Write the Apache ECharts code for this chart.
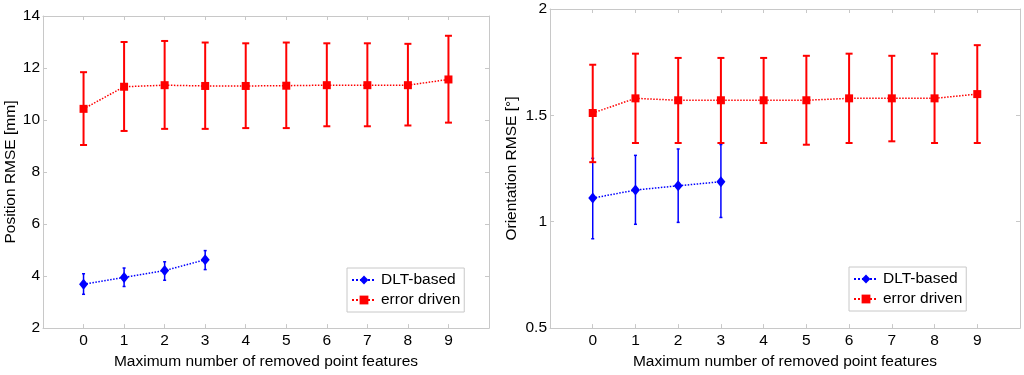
<!DOCTYPE html>
<html>
<head>
<meta charset="utf-8">
<script src="https://cdn.jsdelivr.net/npm/echarts@6/dist/echarts.min.js"></script>
<style>
html,body{margin:0;padding:0;background:#fff;}
#c{width:1024px;height:375px;}
</style>
</head>
<body>
<div id="c"></div>
<script>
var categories = [0, 1, 2, 3, 4, 5, 6, 7, 8, 9];
var seriesNames = ['DLT-based', 'error driven'];

// Position RMSE [mm]
var posDltMean = [3.69, 3.95, 4.21, 4.63];
var posDltLow  = [3.30, 3.60, 3.84, 4.25];
var posDltHigh = [4.09, 4.31, 4.55, 4.98];
var posErrMean = [10.43, 11.28, 11.34, 11.31, 11.31, 11.32, 11.34, 11.34, 11.34, 11.56];
var posErrLow  = [9.04, 9.58, 9.66, 9.66, 9.69, 9.69, 9.76, 9.76, 9.79, 9.90];
var posErrHigh = [11.84, 13.00, 13.04, 12.98, 12.95, 12.98, 12.95, 12.95, 12.93, 13.24];

// Orientation RMSE [deg]
var oriDltMean = [1.111, 1.149, 1.169, 1.188];
var oriDltLow  = [0.920, 0.988, 0.997, 1.020];
var oriDltHigh = [1.298, 1.312, 1.342, 1.363];
var oriErrMean = [1.511, 1.580, 1.571, 1.571, 1.571, 1.571, 1.580, 1.580, 1.580, 1.600];
var oriErrLow  = [1.280, 1.370, 1.370, 1.370, 1.370, 1.362, 1.370, 1.378, 1.370, 1.370];
var oriErrHigh = [1.738, 1.790, 1.770, 1.770, 1.770, 1.780, 1.790, 1.780, 1.790, 1.830];

var posTicks = [2, 4, 6, 8, 10, 12, 14];
var oriTicks = [0.5, 1, 1.5, 2];

var BLUE = '#0000ff', RED = '#ff0000', BOX = '#c8c8c8';
var FONT = 'Liberation Sans, Arial, sans-serif';
var FS = 15.5;

function pts(means) { return means.map(function (v, i) { return [categories[i], v]; }); }
function bars(lows, highs) { return lows.map(function (v, i) { return [categories[i], v, highs[i]]; }); }

function errSeries(name, data, color, capHalf, lw, gi) {
  return {
    type: 'custom', name: name + ' error', xAxisIndex: gi * 2, yAxisIndex: gi * 2, z: 2,
    data: data, silent: true, itemStyle: { color: color },
    renderItem: function (params, api) {
      var x = api.value(0);
      var lo = api.coord([x, api.value(1)]);
      var hi = api.coord([x, api.value(2)]);
      var st = { stroke: color, lineWidth: lw };
      return {
        type: 'group',
        children: [
          { type: 'line', shape: { x1: lo[0], y1: lo[1], x2: hi[0], y2: hi[1] }, style: st },
          { type: 'line', shape: { x1: lo[0] - capHalf, y1: lo[1], x2: lo[0] + capHalf, y2: lo[1] }, style: st },
          { type: 'line', shape: { x1: hi[0] - capHalf, y1: hi[1], x2: hi[0] + capHalf, y2: hi[1] }, style: st }
        ]
      };
    }
  };
}

function lineSeries(name, data, color, symbol, size, gi) {
  return {
    type: 'line', name: name, xAxisIndex: gi * 2, yAxisIndex: gi * 2, z: 3,
    data: data, symbol: symbol, symbolSize: size,
    lineStyle: { color: color, width: 1.5, type: 'dotted' },
    itemStyle: { color: color, borderWidth: 0 },
    emphasis: { disabled: true }, animation: false
  };
}

function xAxes(gi, nameGap) {
  var tickLabels = categories.map(String);
  return [
    {
      type: 'value', gridIndex: gi, min: -1, max: 10, interval: 1, position: 'bottom',
      name: 'Maximum number of removed point features', nameLocation: 'middle', nameGap: nameGap,
      nameTextStyle: { fontFamily: FONT, fontSize: FS, color: '#000' },
      axisLine: { onZero: false, lineStyle: { color: BOX, width: 1 } },
      axisTick: { inside: true, length: 4, lineStyle: { color: BOX } },
      axisLabel: {
        margin: 5, fontFamily: FONT, fontSize: FS, color: '#000',
        formatter: function (v) { return tickLabels.indexOf(String(v)) >= 0 ? String(v) : ''; }
      },
      splitLine: { show: false }
    },
    {
      type: 'value', gridIndex: gi, min: -1, max: 10, interval: 1, position: 'top',
      axisLine: { onZero: false, lineStyle: { color: BOX, width: 1 } },
      axisTick: { inside: true, length: 4, lineStyle: { color: BOX } },
      axisLabel: { show: false }, splitLine: { show: false }
    }
  ];
}

function yAxes(gi, min, max, interval, name, nameGap) {
  return [
    {
      type: 'value', gridIndex: gi, min: min, max: max, interval: interval, position: 'left',
      name: name, nameLocation: 'middle', nameGap: nameGap,
      nameTextStyle: { fontFamily: FONT, fontSize: FS, color: '#000' },
      axisLine: { show: true, onZero: false, lineStyle: { color: BOX, width: 1 } },
      axisTick: { show: true, inside: true, length: 4, lineStyle: { color: BOX } },
      axisLabel: { margin: 3, fontFamily: FONT, fontSize: FS, color: '#000' },
      splitLine: { show: false }
    },
    {
      type: 'value', gridIndex: gi, min: min, max: max, interval: interval, position: 'right',
      axisLine: { show: true, onZero: false, lineStyle: { color: BOX, width: 1 } },
      axisTick: { show: true, inside: true, length: 4, lineStyle: { color: BOX } },
      axisLabel: { show: false }, splitLine: { show: false }
    }
  ];
}

function legendAt(left, top) {
  return {
    left: left, top: top, orient: 'vertical', data: seriesNames,
    backgroundColor: '#fff', borderColor: BOX, borderWidth: 1, borderRadius: 0,
    padding: [4, 4, 4, 4], itemGap: 4, itemWidth: 24, itemHeight: 11,
    selectedMode: false,
    textStyle: { fontFamily: FONT, fontSize: FS, color: '#000' }
  };
}

var chart = echarts.init(document.getElementById('c'), null, { renderer: 'canvas' });
chart.setOption({
  animation: false,
  backgroundColor: '#fff',
  grid: [
    { left: 43, top: 16, width: 446, height: 321 },
    { left: 550, top: 9, width: 470, height: 325 }
  ],
  xAxis: xAxes(0, 20).concat(xAxes(1, 20)),
  yAxis: yAxes(0, posTicks[0], posTicks[posTicks.length - 1], 2, 'Position RMSE [mm]', 23)
    .concat(yAxes(1, oriTicks[0], oriTicks[oriTicks.length - 1], 0.5, 'Orientation RMSE [°]', 30)),
  legend: [legendAt(347, 268), legendAt(849, 267)],
  series: [
    errSeries('DLT-based', bars(posDltLow, posDltHigh), BLUE, 1.5, 1.5, 0),
    errSeries('error driven', bars(posErrLow, posErrHigh), RED, 3.5, 2, 0),
    lineSeries('DLT-based', pts(posDltMean), BLUE, 'diamond', [9, 11], 0),
    lineSeries('error driven', pts(posErrMean), RED, 'rect', 8, 0),
    errSeries('DLT-based', bars(oriDltLow, oriDltHigh), BLUE, 1.5, 1.5, 1),
    errSeries('error driven', bars(oriErrLow, oriErrHigh), RED, 3.5, 2, 1),
    lineSeries('DLT-based', pts(oriDltMean), BLUE, 'diamond', [9, 11], 1),
    lineSeries('error driven', pts(oriErrMean), RED, 'rect', 8, 1)
  ]
});
</script>
</body>
</html>
